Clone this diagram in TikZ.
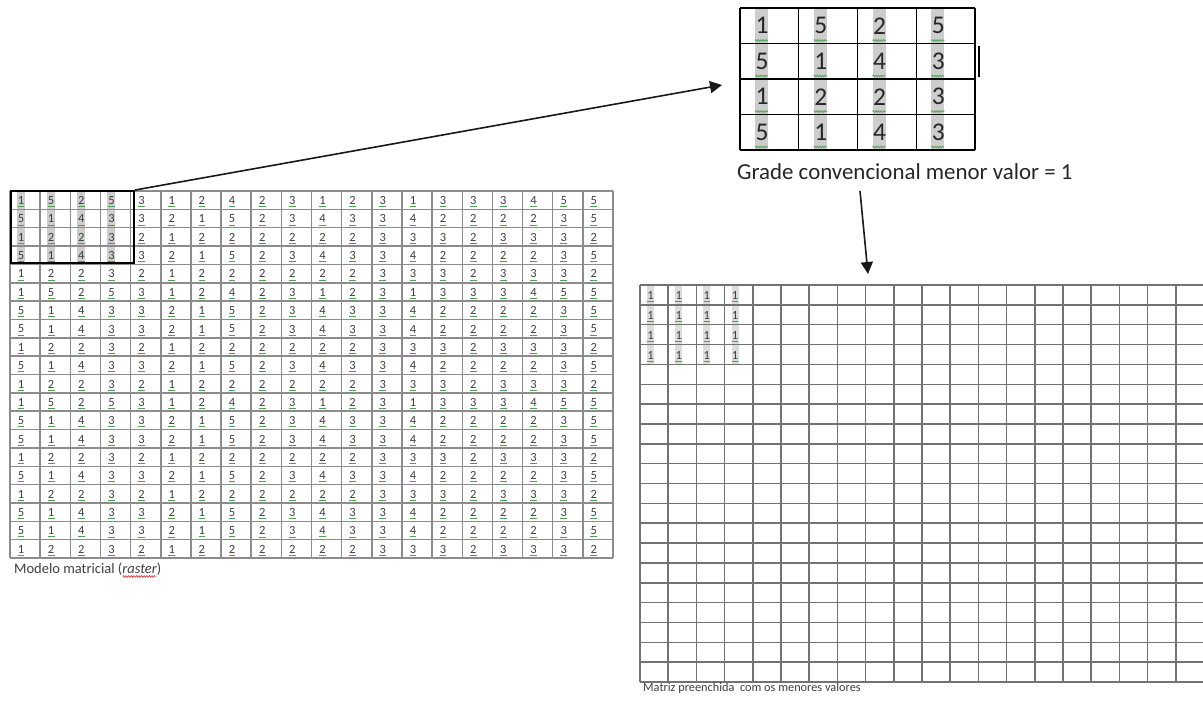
\documentclass[tikz,border=0pt]{standalone}
\usepackage{fontspec}
\setmainfont{Carlito}
\usetikzlibrary{arrows.meta,decorations.pathmorphing}
\definecolor{gridGrey}{RGB}{140,140,140}
\definecolor{gridDark}{RGB}{115,115,115}
\definecolor{markGrey}{RGB}{205,205,205}
\definecolor{spellGreen}{RGB}{80,160,80}
\definecolor{spellRed}{RGB}{205,70,70}

\begin{document}
\begin{tikzpicture}[
  x=1pt, y=-1pt,
  cellnum/.style={font=\fontsize{12.5}{12.5}\selectfont, text=black!75, inner sep=0pt},
  bignum/.style={font=\fontsize{25.5}{25.5}\selectfont, text=black!85, inner sep=0pt},
  capleft/.style={font=\fontsize{14.5}{15}\selectfont, text=black!75, inner sep=0pt},
  capright/.style={font=\fontsize{12.3}{13}\selectfont, text=black!75, inner sep=0pt},
  capbig/.style={font=\fontsize{22.9}{23}\selectfont, text=black!85, inner sep=0pt},
  thingrid/.style={gridGrey, line width=1.5pt},
  darkgrid/.style={gridDark, line width=1.5pt},
  topgrid/.style={black, line width=1.3pt},
  selbox/.style={draw=black, line width=2.2pt, inner sep=0pt},
  squig/.style={spellGreen, line width=0.8pt},
  wavy/.style={spellGreen, line width=0.7pt, decorate,
               decoration={snake, amplitude=0.9pt, segment length=2.6pt}},
  arr/.style={-{Triangle[length=12pt, width=12pt]}, line width=1.6pt, black!90},
]

%% ── canvas (pixels of the page) ──────────────────────────
\useasboundingbox (0,0) rectangle (1203,701);

%% ── helper: plain grid of cells ──────────────────────────
%% args: x-left, y-top, cell width, row height, cols, rows, style
\newcommand{\cellgrid}[7]{
  \foreach \k in {0,...,#5}
    \draw[#7] ({#1+\k*#3},#2) -- ({#1+\k*#3},{#2+#6*#4});
  \foreach \k in {0,...,#6}
    \draw[#7] (#1,{#2+\k*#4}) -- ({#1+#5*#3},{#2+\k*#4});
}

%% ── raster rows (three patterns) ─────────────────────────
\def\rA{1,5,2,5,3,1,2,4,2,3,1,2,3,1,3,3,3,4,5,5}
\def\rB{5,1,4,3,3,2,1,5,2,3,4,3,3,4,2,2,2,2,3,5}
\def\rC{1,2,2,3,2,1,2,2,2,2,2,2,3,3,3,2,3,3,3,2}

%% ── left raster: 20 x 20 cells ───────────────────────────
\def\LgX{10}  \def\LgY{191}  \def\Lcw{30.15}  \def\Lrh{18.35}

% grey marks behind the first four columns
\foreach \j in {0,...,3}
  \fill[markGrey] ({\LgX+\j*\Lcw+7},\LgY) rectangle ({\LgX+\j*\Lcw+15},{\LgY+4*\Lrh});

\cellgrid{\LgX}{\LgY}{\Lcw}{\Lrh}{20}{20}{thingrid}

\foreach \rid [count=\i from 0] in {A,B,C,B,C,A,B,B,C,B,C,A,B,B,C,B,C,B,B,C}{
  \edef\rowvals{\csname r\rid\endcsname}
  \foreach \v [count=\j from 0] in \rowvals {
    \node[cellnum] (L-\i-\j) at ({\LgX+\j*\Lcw+11},{\LgY+(\i+0.52)*\Lrh}) {\v};
    \draw[squig] ([yshift=-1.8pt]L-\i-\j.south west) -- ([yshift=-1.8pt]L-\i-\j.south east);
  }
}

% selected 4 x 4 window
\node[selbox, minimum width=123.5pt, minimum height=72pt, anchor=north west]
     (sel) at (9.5,190) {};

\node[capleft, anchor=base west] (lcap) at (14,573) {Modelo matricial (\textit{raster})};
\draw[spellRed, line width=0.7pt, decorate,
      decoration={snake, amplitude=0.9pt, segment length=2.6pt}]
     ([xshift=-39pt, yshift=-3.5pt]lcap.base east) -- ([xshift=-6pt, yshift=-3.5pt]lcap.base east);

%% ── enlarged window: 4 x 4 cells ─────────────────────────
\def\TgX{740}  \def\TgY{8}  \def\Tcw{58.75}  \def\Trh{35.5}

\foreach \j in {0,...,3}
  \fill[markGrey] ({\TgX+\j*\Tcw+15},{\TgY+1}) rectangle ({\TgX+\j*\Tcw+28},{\TgY+4*\Trh-1});

\cellgrid{\TgX}{\TgY}{\Tcw}{\Trh}{4}{4}{topgrid}

\foreach \rid [count=\i from 0] in {A,B,C,B}{
  \edef\rowvals{\csname r\rid\endcsname}
  \foreach \v [count=\j from 0] in \rowvals {
    \ifnum\j<4
      \node[bignum] (T-\i-\j) at ({\TgX+\j*\Tcw+22},{\TgY+(\i+0.5)*\Trh}) {\v};
      \draw[wavy] ({\TgX+\j*\Tcw+15},{\TgY+(\i+1)*\Trh-3}) -- ++(13,0);
    \fi
  }
}

% cursor bar at the right edge
\draw[black, line width=2.8pt] (979,46) -- (979,77);

\node[capbig, anchor=base west] (gcap) at (737,179) {Grade convencional menor valor = 1};

%% ── arrows ───────────────────────────────────────────────
\coordinate (zin) at (722,85);
\coordinate (dn0) at (860,191);
\coordinate (dn1) at (868,274);
\draw[arr] (sel.north east) -- (zin);
\draw[arr] (dn0) -- (dn1);

%% ── result matrix: 20 x 20 cells, cut at the page edge ───
\def\RgX{640}  \def\RgY{285}  \def\Rcw{28.2}  \def\Rrh{19.85}

\foreach \j in {0,...,3}
  \fill[markGrey!70] ({\RgX+\j*\Rcw+7},\RgY) rectangle ({\RgX+\j*\Rcw+14},{\RgY+4*\Rrh});

\cellgrid{\RgX}{\RgY}{\Rcw}{\Rrh}{20}{20}{darkgrid}

\foreach \i in {0,...,3}
  \foreach \j in {0,...,3}{
    \node[cellnum] (R-\i-\j) at ({\RgX+\j*\Rcw+10.5},{\RgY+(\i+0.55)*\Rrh}) {1};
    \draw[squig] ([yshift=-1.6pt]R-\i-\j.south west) -- ([yshift=-1.6pt]R-\i-\j.south east);
  }

\node[capright, anchor=base west] (rcap) at (643,691)
     {Matriz preenchida \ com os menores valores};

\end{tikzpicture}
\end{document}
